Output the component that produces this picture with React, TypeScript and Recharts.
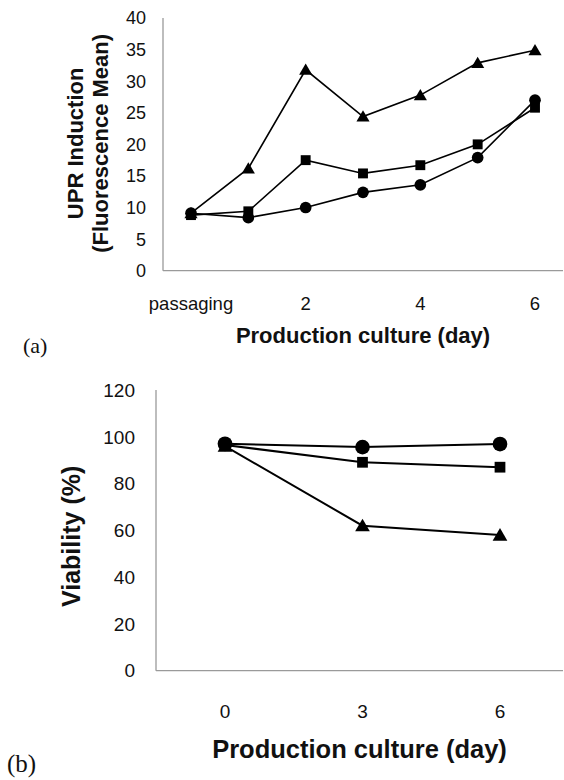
import React from "react";
import { Label, Line, LineChart, XAxis, YAxis } from "recharts";

// panel (a): UPR induction over the production culture
const daysA = ["passaging", "1", "2", "3", "4", "5", "6"];
const triangleA = [9.1, 16.2, 31.8, 24.4, 27.8, 32.9, 34.9];
const squareA = [8.8, 9.4, 17.5, 15.4, 16.7, 20.0, 25.8];
const circleA = [9.1, 8.4, 10.0, 12.4, 13.6, 17.9, 27.0];
const ticksA = [0, 5, 10, 15, 20, 25, 30, 35, 40];

// panel (b): viability
const daysB = ["0", "3", "6"];
const triangleB = [96.0, 62.0, 58.0];
const squareB = [96.5, 89.1, 87.0];
const circleB = [97.0, 95.6, 96.9];
const ticksB = [0, 20, 40, 60, 80, 100, 120];

const dataA = daysA.map((day, i) => ({
  day,
  triangle: triangleA[i],
  square: squareA[i],
  circle: circleA[i],
}));

const dataB = daysB.map((day, i) => ({
  day,
  triangle: triangleB[i],
  square: squareB[i],
  circle: circleB[i],
}));

const SANS = '"Liberation Sans", Arial, sans-serif';
const SERIF = '"Liberation Serif", "Times New Roman", serif';
const AXIS = "#9a9a9a";
const INK = "#111";

type Shape = "triangle" | "square" | "circle";

const marker = (shape: Shape, size: number) => (props: any) => {
  const { cx, cy, index } = props;
  const key = `${shape}-${index}`;
  if (cx == null || cy == null) return <g key={key} />;
  if (shape === "circle") {
    return <circle key={key} cx={cx} cy={cy} r={size / 2} fill="#000" />;
  }
  if (shape === "square") {
    const s = size * 0.86;
    return <rect key={key} x={cx - s / 2} y={cy - s / 2} width={s} height={s} fill="#000" />;
  }
  const w = size * 1.05;
  const h = size * 0.9;
  return (
    <polygon
      key={key}
      points={`${cx},${cy - h * 0.55} ${cx + w / 2},${cy + h * 0.45} ${cx - w / 2},${cy + h * 0.45}`}
      fill="#000"
    />
  );
};

const xTitle = (offset: number, fontSize: number, panel: string, panelX: number, panelY: number, panelSize: number) =>
  (props: any) => {
    const { x, y, width } = props.viewBox;
    return (
      <g>
        <text
          x={x + width / 2}
          y={y + offset}
          textAnchor="middle"
          fontFamily={SANS}
          fontWeight="bold"
          fontSize={fontSize}
          fill={INK}
        >
          Production culture (day)
        </text>
        <text x={panelX} y={y + panelY} fontFamily={SERIF} fontSize={panelSize} fill={INK}>
          {panel}
        </text>
      </g>
    );
  };

const yTitle = (lines: string[], baselines: number[], fontSize: number, shift: number) =>
  (props: any) => {
    const { y, height } = props.viewBox;
    const cy = y + height / 2 + shift;
    return (
      <g>
        {lines.map((line, i) => (
          <text
            key={line}
            x={baselines[i]}
            y={cy}
            transform={`rotate(-90, ${baselines[i]}, ${cy})`}
            textAnchor="middle"
            fontFamily={SANS}
            fontWeight="bold"
            fontSize={fontSize}
            fill={INK}
          >
            {line}
          </text>
        ))}
      </g>
    );
  };

export default function App() {
  return (
    <div style={{ position: "absolute", left: 0, top: 0, width: 564, height: 780, background: "#fff" }}>
      <div style={{ position: "absolute", left: 0, top: 0 }}>
        <LineChart width={564} height={370} data={dataA} margin={{ top: 18, right: 1, bottom: 0, left: 0 }}>
          <XAxis
            dataKey="day"
            type="category"
            scale="point"
            padding={{ left: 28, right: 28 }}
            interval={1}
            height={99.3}
            tickSize={0}
            tickLine={false}
            tickMargin={26}
            axisLine={{ stroke: AXIS, strokeWidth: 1.3 }}
            tick={{ fontSize: 18.5, fill: INK, fontFamily: SANS }}
          >
            <Label content={xTitle(72, 22, "(a)", 23, 82.5, 22)} />
          </XAxis>
          <YAxis
            type="number"
            domain={[0, 40]}
            ticks={ticksA}
            width={163}
            tickSize={0}
            tickLine={false}
            tickMargin={17}
            axisLine={{ stroke: AXIS, strokeWidth: 1.3 }}
            tick={{ fontSize: 18, fill: INK, fontFamily: SANS }}
          >
            <Label content={yTitle(["UPR Induction", "(Fluorescence Mean)"], [83, 108], 22, -1)} />
          </YAxis>
          <Line dataKey="triangle" stroke="#000" strokeWidth={1.6} dot={marker("triangle", 12.5)} isAnimationActive={false} />
          <Line dataKey="square" stroke="#000" strokeWidth={1.6} dot={marker("square", 11.5)} isAnimationActive={false} />
          <Line dataKey="circle" stroke="#000" strokeWidth={1.6} dot={marker("circle", 11.7)} isAnimationActive={false} />
        </LineChart>
      </div>
      <div style={{ position: "absolute", left: 0, top: 370 }}>
        <LineChart width={564} height={410} data={dataB} margin={{ top: 20, right: 1, bottom: 0, left: 0 }}>
          <XAxis
            dataKey="day"
            type="category"
            scale="point"
            padding={{ left: 69, right: 63 }}
            interval={0}
            height={109.3}
            tickSize={0}
            tickLine={false}
            tickMargin={34}
            axisLine={{ stroke: AXIS, strokeWidth: 1.3 }}
            tick={{ fontSize: 19, fill: INK, fontFamily: SANS }}
          >
            <Label content={xTitle(87.5, 25.5, "(b)", 7, 101.5, 25)} />
          </XAxis>
          <YAxis
            type="number"
            domain={[0, 120]}
            ticks={ticksB}
            width={156}
            tickSize={0}
            tickLine={false}
            tickMargin={21}
            axisLine={{ stroke: AXIS, strokeWidth: 1.3 }}
            tick={{ fontSize: 19, fill: INK, fontFamily: SANS }}
          >
            <Label content={yTitle(["Viability (%)"], [80], 25, 6)} />
          </YAxis>
          <Line dataKey="triangle" stroke="#000" strokeWidth={2} dot={marker("triangle", 14)} isAnimationActive={false} />
          <Line dataKey="square" stroke="#000" strokeWidth={2} dot={marker("square", 12.5)} isAnimationActive={false} />
          <Line dataKey="circle" stroke="#000" strokeWidth={2} dot={marker("circle", 14.7)} isAnimationActive={false} />
        </LineChart>
      </div>
    </div>
  );
}
